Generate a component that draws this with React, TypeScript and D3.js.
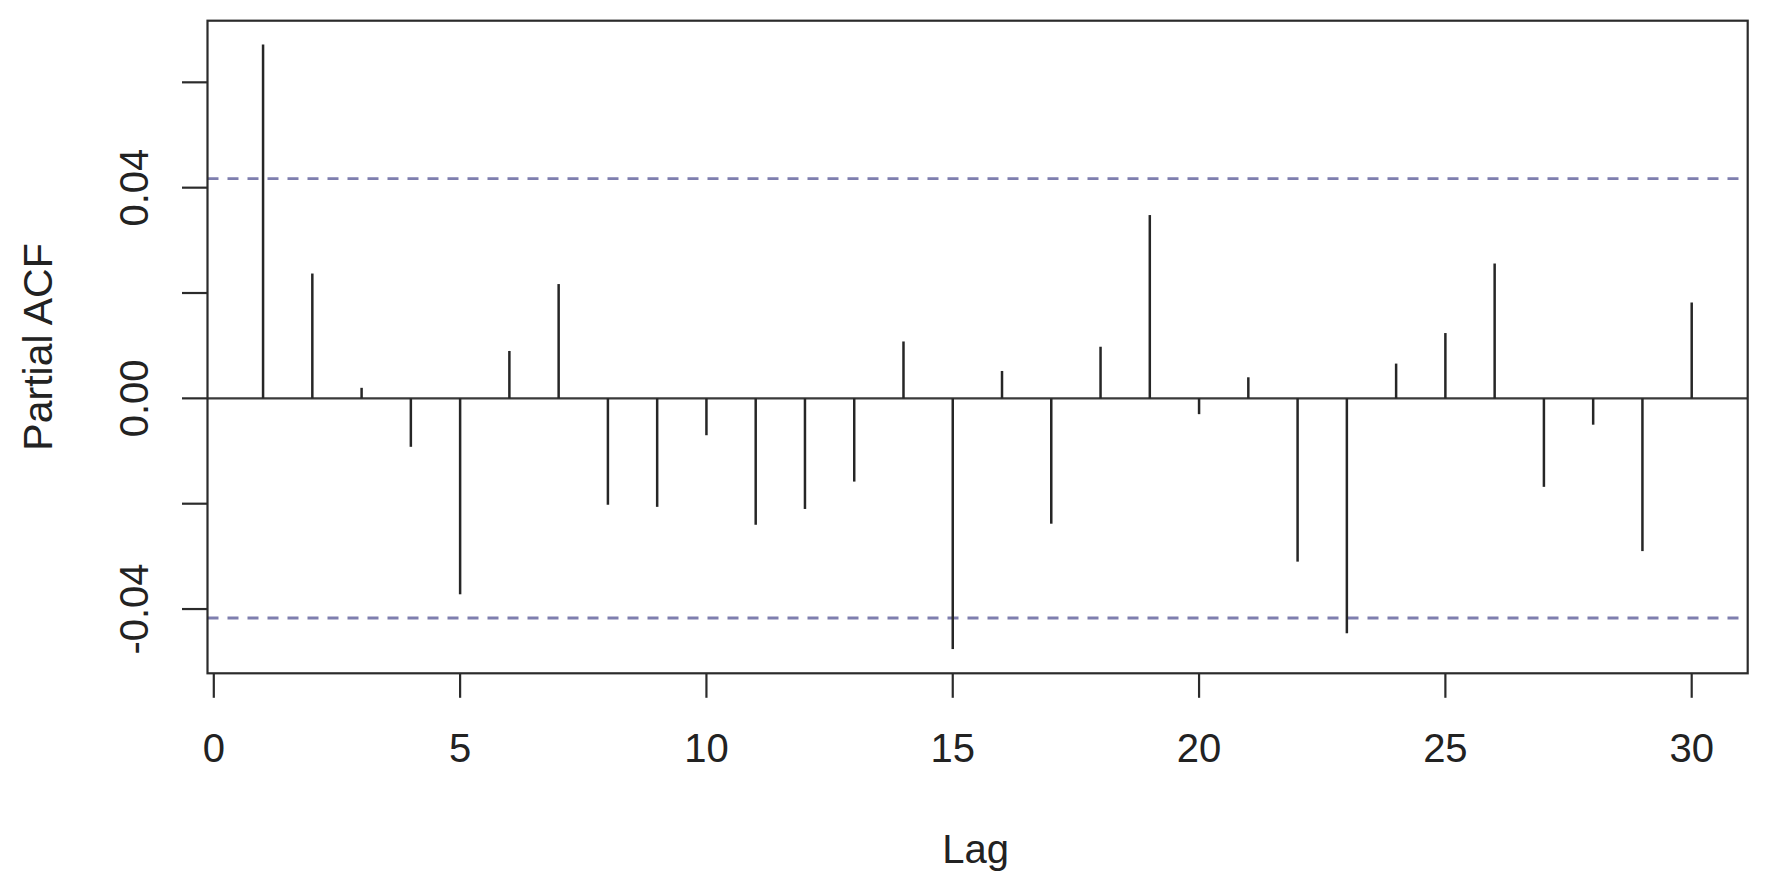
import React from 'react';
import * as d3 from 'd3';

// partial autocorrelation by lag
const lags = d3.range(1, 31);
const pacfValues = [
  0.0672, 0.0237, 0.002, -0.0092, -0.0372, 0.009, 0.0217, -0.0202, -0.0206, -0.007,
  -0.024, -0.021, -0.0158, 0.0108, -0.0476, 0.0052, -0.0238, 0.0098, 0.0348, -0.003,
  0.004, -0.031, -0.0446, 0.0066, 0.0124, 0.0256, -0.0168, -0.005, -0.029, 0.0182,
];
const confLimit = 0.0417;

const xTicks = [0, 5, 10, 15, 20, 25, 30];
const yTicks = [-0.04, -0.02, 0, 0.02, 0.04, 0.06];
const yTickLabels = [-0.04, 0, 0.04];

const WIDTH = 1765;
const HEIGHT = 887;
const plot = { left: 207.5, right: 1747.7, top: 20.7, bottom: 673.3 };

const FONT = '"Liberation Sans", Arial, sans-serif';
const INK = '#2b2b2b';

const App = () => {
  const xScale = d3.scaleLinear().domain([0, 30]).range([213.8, 1691.7]);
  const yScale = d3.scaleLinear().domain([-0.0522, 0.0717]).range([plot.bottom, plot.top]);

  const data = lags.map((lag, i) => ({ lag, value: pacfValues[i] }));
  // R prints a plain hyphen, not the unicode minus d3.format gives
  const fmt = (v: number) => v.toFixed(2);

  return (
    <svg
      width={WIDTH}
      height={HEIGHT}
      style={{ position: 'absolute', left: 0, top: 0, background: '#fff' }}
    >
      <rect x={0} y={0} width={WIDTH} height={HEIGHT} fill="#fff" />

      {/* confidence bounds */}
      {[confLimit, -confLimit].map((c) => (
        <line
          key={c}
          x1={plot.left}
          x2={plot.right}
          y1={yScale(c)}
          y2={yScale(c)}
          stroke="#7e7eae"
          strokeWidth={2.8}
          strokeDasharray="11,9"
        />
      ))}

      {/* zero line */}
      <line
        x1={plot.left}
        x2={plot.right}
        y1={yScale(0)}
        y2={yScale(0)}
        stroke="#3a3a3a"
        strokeWidth={2.4}
      />

      {/* spikes */}
      {data.map((d) => (
        <line
          key={d.lag}
          x1={xScale(d.lag)}
          x2={xScale(d.lag)}
          y1={yScale(0)}
          y2={yScale(d.value)}
          stroke="#262626"
          strokeWidth={2.5}
        />
      ))}

      {/* frame */}
      <rect
        x={plot.left}
        y={plot.top}
        width={plot.right - plot.left}
        height={plot.bottom - plot.top}
        fill="none"
        stroke={INK}
        strokeWidth={2.2}
      />

      {/* x axis */}
      {xTicks.map((t) => (
        <g key={t}>
          <line
            x1={xScale(t)}
            x2={xScale(t)}
            y1={plot.bottom}
            y2={plot.bottom + 24.5}
            stroke={INK}
            strokeWidth={2.2}
          />
          <text
            x={xScale(t)}
            y={761.5}
            textAnchor="middle"
            fontFamily={FONT}
            fontSize={40}
            fill="#222"
          >
            {t}
          </text>
        </g>
      ))}

      {/* y axis */}
      {yTicks.map((t) => (
        <line
          key={t}
          x1={plot.left - 25.5}
          x2={plot.left}
          y1={yScale(t)}
          y2={yScale(t)}
          stroke={INK}
          strokeWidth={2.2}
        />
      ))}
      {yTickLabels.map((t) => (
        <text
          key={t}
          transform={`translate(148,${yScale(t)}) rotate(-90)`}
          textAnchor="middle"
          fontFamily={FONT}
          fontSize={40}
          fill="#222"
        >
          {fmt(t)}
        </text>
      ))}

      {/* axis titles */}
      <text
        x={(plot.left + plot.right) / 2 - 2}
        y={863.3}
        textAnchor="middle"
        fontFamily={FONT}
        fontSize={40}
        fill="#222"
      >
        Lag
      </text>
      <text
        transform={`translate(51.7,${(plot.top + plot.bottom) / 2}) rotate(-90)`}
        textAnchor="middle"
        fontFamily={FONT}
        fontSize={41}
        fill="#222"
      >
        Partial ACF
      </text>
    </svg>
  );
};

export default App;
